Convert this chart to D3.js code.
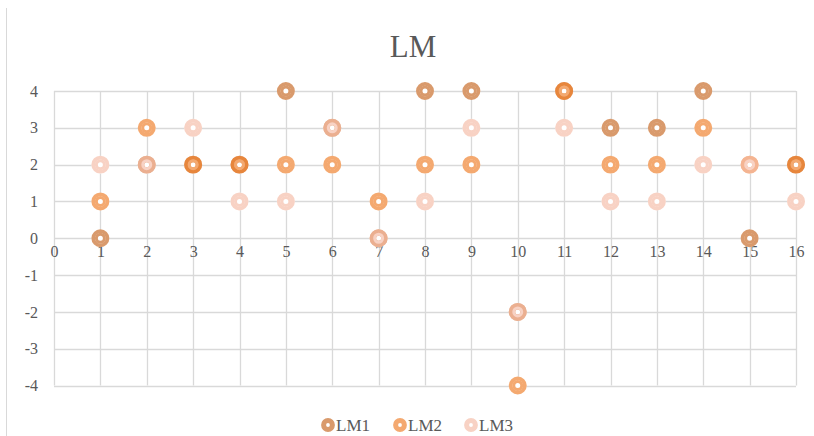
<!DOCTYPE html>
<html>
<head>
<meta charset="utf-8">
<script src="https://cdn.jsdelivr.net/npm/d3@7"></script>
<style>
  html, body { margin: 0; padding: 0; background: #fff; }
  svg { display: block; font-family: "Liberation Serif", "DejaVu Serif", serif; }
</style>
</head>
<body>
<svg id="chart" width="814" height="436"></svg>
<script>
// Data
const xValues = [1, 2, 3, 4, 5, 6, 7, 8, 9, 10, 11, 12, 13, 14, 15, 16];
const lm1 = [0, 2, 2, 2, 4, 3, 0, 4, 4, -2, 4, 3, 3, 4, 0, 2];
const lm2 = [1, 3, 2, 2, 2, 2, 1, 2, 2, -4, 4, 2, 2, 3, 2, 2];
const lm3 = [2, 2, 3, 1, 1, 3, 0, 1, 3, -2, 3, 1, 1, 2, 2, 1];
const seriesNames = ["LM1", "LM2", "LM3"];
// Colour as seen on white, and the deeper tint used for the translucent outer band
const seriesColors = ["#d99a6c", "#f4a970", "#f8d2c4"];
const bandColors = ["#c5641d", "#ee7b23", "#f4baa4"];
const bandOpacity = 0.65;
const xTicks = d3.range(0, 17);
const yTicks = [-4, -3, -2, -1, 0, 1, 2, 3, 4];

const series = [lm1, lm2, lm3].map((vals, i) => ({
  name: seriesNames[i],
  color: seriesColors[i],
  band: bandColors[i],
  points: vals.map((v, j) => ({ x: xValues[j], y: v }))
}));

const svg = d3.select("#chart");
const textColor = "#595959";
const gridColor = "#d9d9d9";
const fmt = d => String(d); // plain hyphen for negatives

const x = d3.scaleLinear().domain([0, 16]).range([54, 796]);
const y = d3.scaleLinear().domain([-4, 4]).range([385.5, 91]);

// Outer frame edge
svg.append("line")
  .attr("x1", 6.5).attr("x2", 6.5).attr("y1", 8).attr("y2", 436)
  .attr("stroke", gridColor).attr("stroke-width", 1);

// Title
svg.append("text")
  .attr("x", 413).attr("y", 57)
  .attr("text-anchor", "middle")
  .attr("font-size", 31)
  .attr("fill", textColor)
  .text("LM");

// Gridlines
const grid = svg.append("g");
grid.selectAll("line.h").data(yTicks).join("line")
  .attr("x1", x(0)).attr("x2", x(16))
  .attr("y1", d => Math.round(y(d)) + 0.5).attr("y2", d => Math.round(y(d)) + 0.5)
  .attr("stroke", gridColor).attr("stroke-width", 1.3);
grid.selectAll("line.v").data(xTicks).join("line")
  .attr("x1", d => Math.round(x(d)) + 0.5).attr("x2", d => Math.round(x(d)) + 0.5)
  .attr("y1", y(4)).attr("y2", y(-4))
  .attr("stroke", gridColor).attr("stroke-width", 1.3);

// Y axis labels
const yAxis = d3.axisLeft(y).tickValues(yTicks).tickSize(0).tickPadding(0)
  .tickFormat(fmt);
const yg = svg.append("g").attr("transform", "translate(38,0)").call(yAxis);
yg.select(".domain").remove();
yg.selectAll("text").attr("font-size", 16).attr("fill", textColor)
  .attr("font-family", "Liberation Serif, DejaVu Serif, serif");

// X axis labels sit just below the zero line
const xAxis = d3.axisBottom(x).tickValues(xTicks).tickSize(0).tickPadding(0)
  .tickFormat(fmt);
const xg = svg.append("g").attr("transform", `translate(0,${y(0) + 19})`).call(xAxis);
xg.select(".domain").remove();
xg.selectAll("text").attr("font-size", 16).attr("fill", textColor)
  .attr("dy", "0")
  .attr("font-family", "Liberation Serif, DejaVu Serif, serif");

// Markers: white cores first, then coloured rings per series
const allPoints = series.flatMap(s => s.points);
svg.append("g").selectAll("circle").data(allPoints).join("circle")
  .attr("cx", d => x(d.x)).attr("cy", d => y(d.y))
  .attr("r", 9).attr("fill", "#fff");

const markerLayer = svg.append("g");
series.forEach(s => {
  const g = markerLayer.append("g");
  // translucent outer band: stacked markers build up a deeper tone
  g.selectAll("circle.outer").data(s.points).join("circle")
    .attr("class", "outer")
    .attr("cx", d => x(d.x)).attr("cy", d => y(d.y))
    .attr("r", 7.1).attr("fill", "none")
    .attr("stroke", s.band).attr("stroke-opacity", bandOpacity)
    .attr("stroke-width", 3.8);
  // inner band, slightly overlapping the outer band to avoid a seam
  g.selectAll("circle.inner").data(s.points).join("circle")
    .attr("class", "inner")
    .attr("cx", d => x(d.x)).attr("cy", d => y(d.y))
    .attr("r", 4.0).attr("fill", "none")
    .attr("stroke", s.color).attr("stroke-width", 3.0);
});

// Legend
const legendItems = [
  { name: seriesNames[0], color: seriesColors[0], mx: 328, tx: 336 },
  { name: seriesNames[1], color: seriesColors[1], mx: 400, tx: 408 },
  { name: seriesNames[2], color: seriesColors[2], mx: 471, tx: 479 }
];
const lg = svg.append("g");
legendItems.forEach(it => {
  lg.append("circle").attr("cx", it.mx).attr("cy", 425)
    .attr("r", 4.4).attr("fill", "#fff")
    .attr("stroke", it.color).attr("stroke-width", 5);
  lg.append("text").attr("x", it.tx).attr("y", 431)
    .attr("font-size", 17).attr("fill", textColor)
    .text(it.name);
});
</script>
</body>
</html>
